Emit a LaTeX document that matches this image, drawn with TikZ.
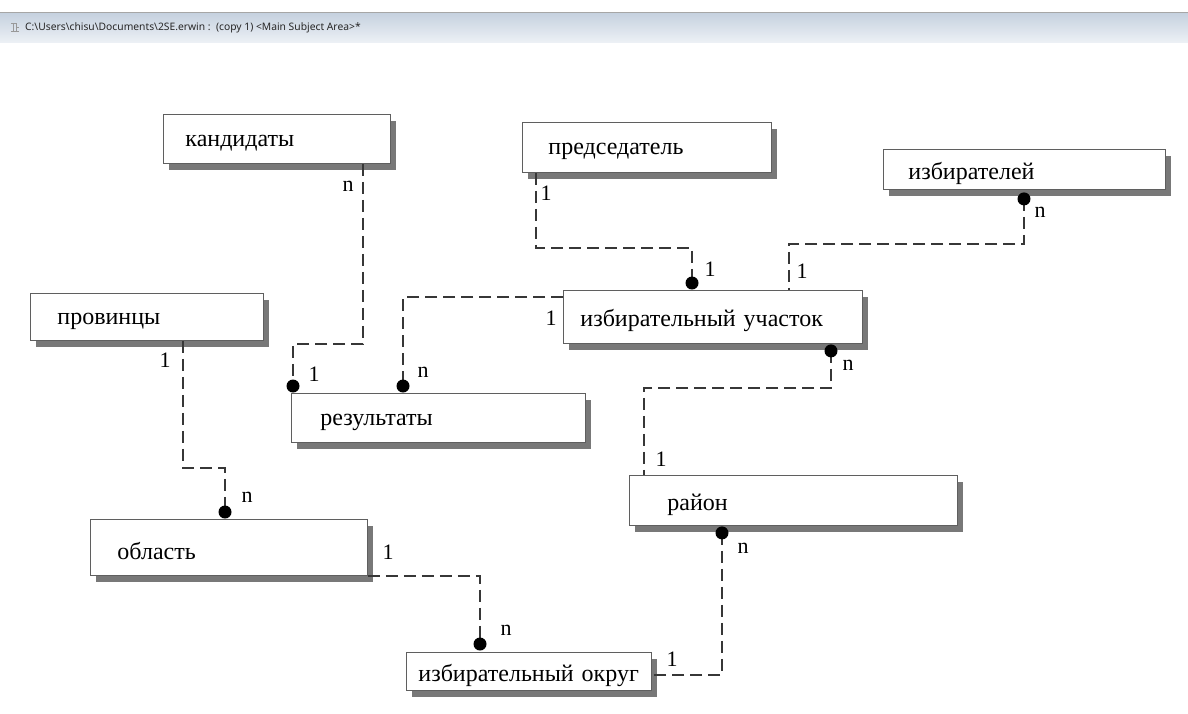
\documentclass[tikz,border=0pt]{standalone}
\usepackage{fontspec}
\setmainfont{Liberation Serif}
\newfontfamily\uifont{Noto Sans}
\usetikzlibrary{shadows}
\definecolor{linec}{RGB}{55,55,55}
\definecolor{boxc}{RGB}{95,95,95}
\definecolor{shadc}{RGB}{120,120,120}
\definecolor{bartop}{RGB}{196,208,222}
\definecolor{barbot}{RGB}{236,240,245}
\newcommand{\etxt}[1]{\raisebox{-4pt}[\height][\depth]{#1}}
\tikzset{
  ent/.style={draw=boxc, line width=0.9pt, fill=white, anchor=north west,
    align=left, inner ysep=0pt, font=\fontsize{24}{27}\selectfont,
    drop shadow={shadow xshift=6pt, shadow yshift=-7pt, fill=shadc, opacity=1}},
  rel/.style={draw=linec, line width=1.2pt, dash pattern=on 12pt off 6pt},
  card/.style={font=\fontsize{22}{24}\selectfont, inner sep=0pt},
  dotmark/.style={fill=black}
}
\begin{document}
\begin{tikzpicture}[x=1pt,y=-1pt]
\useasboundingbox (0,0) rectangle (1188,713);
\fill[white] (0,0) rectangle (1188,713);
% title bar
\shade[top color=bartop, bottom color=barbot] (0,12) rectangle (1188,42);
\draw[gray!70, line width=0.6pt] (0,12) -- (1188,12);
\draw[gray!80, line width=0.8pt] (11,23) -- (16,23) -- (16,32) (13,23) -- (13,31) (11,31) -- (19,31) (16,27) -- (19,27);
\node[font=\uifont\fontsize{10.3}{12}\selectfont, anchor=west, inner sep=0pt, text=black!85] (title) at (25,27.5)
  {C:\textbackslash Users\textbackslash chisu\textbackslash Documents\textbackslash 2SE.erwin :\ \ (copy 1) <Main Subject Area>*};

% entities
\node[ent, minimum width=227pt, minimum height=49pt, text width=183pt, inner xsep=22pt] (kand) at (163,114) {\etxt{кандидаты}};
\node[ent, minimum width=249pt, minimum height=50pt, text width=197pt, inner xsep=26pt] (pred) at (522,122) {\etxt{председатель}};
\node[ent, minimum width=282pt, minimum height=40pt, text width=232pt, inner xsep=25pt] (izb) at (883,149) {\etxt{избирателей}};
\node[ent, minimum width=299pt, minimum height=53pt, text width=265pt, inner xsep=17pt] (uch) at (563,290) {\etxt{избирательный участок}};
\node[ent, minimum width=233pt, minimum height=47pt, text width=179pt, inner xsep=27pt] (prov) at (30,293) {\etxt{провинцы}};
\node[ent, minimum width=294pt, minimum height=49pt, text width=236pt, inner xsep=29pt] (rez) at (291,393) {\etxt{результаты}};
\node[ent, minimum width=328pt, minimum height=50pt, text width=252pt, inner xsep=38pt] (ray) at (629,475) {\etxt{район}};
\node[ent, minimum width=277pt, minimum height=56pt, text width=223pt, inner xsep=27pt] (obl) at (90,519) {\etxt{область}};
\node[ent, minimum width=245pt, minimum height=38pt, text width=221pt, inner xsep=12pt] (okr) at (406,652) {\etxt{избирательный округ}};

% dot coordinates
\coordinate (dRez1) at ([xshift=2pt,yshift=7pt]rez.north west);
\coordinate (dRez2) at ([xshift=112pt,yshift=7pt]rez.north west);
\coordinate (dUch1) at ([xshift=129pt,yshift=7pt]uch.north west);
\coordinate (dIzb) at ([xshift=141pt,yshift=-9pt]izb.south west);
\coordinate (dUch2) at ([xshift=268pt,yshift=-7pt]uch.south west);
\coordinate (dObl) at ([xshift=135pt,yshift=7pt]obl.north west);
\coordinate (dOkr) at ([xshift=74pt,yshift=8pt]okr.north west);
\coordinate (dRay) at ([xshift=93pt,yshift=-7pt]ray.south west);

% connectors
\draw[rel] ([xshift=200pt]kand.south west) -- ++(0,180) -| (dRez1);
\draw[rel] ([xshift=14pt]pred.south west) -- ++(0,75) -| (dUch1);
\draw[rel] (dIzb) -- ++(0,45) -| ([xshift=226pt]uch.north west);
\draw[rel] ([yshift=-7pt]uch.north west) -| (dRez2);
\draw[rel] (dUch2) -- ++(0,37) -| ([xshift=15pt]ray.north west);
\draw[rel] ([xshift=153pt]prov.south west) -- ++(0,127) -| (dObl);
\draw[rel] (obl.south east) -| (dOkr);
\draw[rel] (dRay) |- ([yshift=-23pt]okr.north east);

% dots
\foreach \d in {dRez1,dRez2,dUch1,dIzb,dUch2,dObl,dOkr,dRay}
  \fill[dotmark] (\d) circle (6.5pt);

% cardinality labels
\node[card] (c1) at (348,186) {n};
\node[card] (c2) at (314,374) {1};
\node[card] (c3) at (546,193) {1};
\node[card] (c4) at (710,269) {1};
\node[card] (c5) at (1040,212) {n};
\node[card] (c6) at (802,271) {1};
\node[card] (c7) at (551,318) {1};
\node[card] (c8) at (423,372) {n};
\node[card] (c9) at (848,365) {n};
\node[card] (c10) at (661,459) {1};
\node[card] (c11) at (165,360) {1};
\node[card] (c12) at (247,497) {n};
\node[card] (c13) at (388,552) {1};
\node[card] (c14) at (506,630) {n};
\node[card] (c15) at (743,548) {n};
\node[card] (c16) at (672,659) {1};
\end{tikzpicture}
\end{document}
